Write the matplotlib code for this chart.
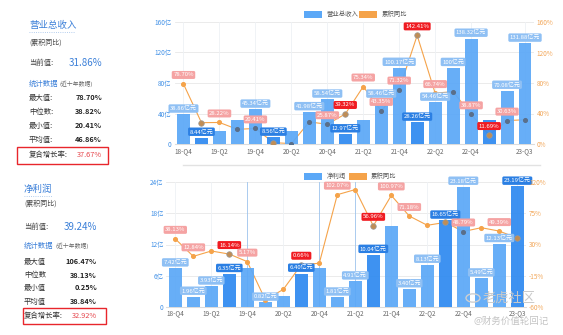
import matplotlib
matplotlib.use("Agg")
import matplotlib.pyplot as plt
from matplotlib.patches import Rectangle, Circle
from matplotlib.lines import Line2D

plt.rcParams['font.family'] = ['Noto Sans CJK SC', 'DejaVu Sans']
plt.rcParams['axes.unicode_minus'] = False

W, H = 563, 335

quarters = ['18-Q4', '19-Q1', '19-Q2', '19-Q3', '19-Q4', '20-Q1', '20-Q2', '20-Q3',
            '20-Q4', '21-Q1', '21-Q2', '21-Q3', '21-Q4', '22-Q1', '22-Q2', '22-Q3',
            '22-Q4', '23-Q1', '23-Q2', '23-Q3']
tick_idx = [0, 2, 4, 6, 8, 10, 12, 14, 16, 19]

# 营业总收入 (亿元) and 累积同比 (%)
revenue = [38.86, 8.44, 17.5, 31.5, 45.34, 8.56, 17.5, 41.98, 58.54, 12.97,
           32.0, 58.46, 100.17, 28.26, 54.46, 100.0, 138.32, 31.5, 70.08, 131.88]
revenue_lbl = [1, 1, 0, 0, 1, 1, 0, 1, 1, 1, 0, 1, 1, 1, 1, 1, 1, 0, 1, 1]
revenue_yoy = [78.70, 28.0, 28.22, 19.2, 20.41, 1.8, 0.5, 29.0, 25.87, 39.32,
               75.34, 43.35, 71.32, 142.41, 66.74, 68.6, 38.87, 11.69, 30.63, 31.86]
revenue_yoy_lbl = [1, 0, 1, 0, 1, 0, 0, 0, 1, 1, 1, 1, 1, 1, 1, 0, 1, 1, 1, 0]
revenue_hl = [1, 5, 9, 13, 17]

# 净利润 (亿元) and 累积同比 (%)
profit = [7.42, 1.96, 3.93, 6.35, 7.5, 0.82, 2.1, 6.40, 7.5, 1.81,
          4.91, 10.04, 15.6, 3.40, 8.13, 16.65, 23.18, 5.49, 12.13, 23.19]
profit_lbl = [1, 1, 1, 1, 0, 1, 0, 1, 0, 1, 1, 1, 0, 1, 1, 1, 1, 1, 1, 1]
profit_yoy = [38.13, 12.84, 20.6, 16.14, 5.17, -50.0, -35.0, 0.66, 2.9, 102.07,
              109.5, 56.96, 100.97, 71.18, 57.8, 62.0, 48.79, 54.3, 49.39, 39.24]
profit_yoy_lbl = [1, 1, 0, 1, 1, 0, 0, 1, 0, 1, 0, 1, 1, 1, 0, 0, 1, 0, 1, 0]
profit_hl = [3, 7, 11, 15, 19]

rev_ticks = [0, 40, 80, 120, 160]
rev_tick_lbl = ['0', '40亿', '80亿', '120亿', '160亿']
rev_pct_ticks = [0, 40, 80, 120, 160]
profit_ticks = [0, 6, 12, 18, 24]
profit_tick_lbl = ['0', '6亿', '12亿', '18亿', '24亿']
profit_pct_ticks = [-60, -15, 30, 75, 120]

rev_stats = [('最大值:', '78.70%'), ('中位数:', '38.82%'), ('最小值:', '20.41%'), ('平均值:', '46.86%')]
profit_stats = [('最大值', '106.47%'), ('中位数', '38.13%'), ('最小值', '0.25%'), ('平均值', '38.84%')]

BAR = "#5ba8f7"; BAR_HL = "#2f8af0"
BOX = "#8fc0f4"; BOX_HL = "#2b7fe3"
LINE = "#f5a34a"; PBOX = "#f5a3a3"; PBOX_HL = "#f01c22"
BLUE_TXT = "#3f8fe6"; ORANGE_TXT = "#f2a658"; GRID = "#e8e8e8"


def frac(x, y):
    return x / W, 1 - y / H


def panel(fig, box, vals, vals_lbl, yoy, yoy_lbl, hl, ticks, tick_lbl, pct_ticks,
          vlines_blue=()):
    l, t, r, b = box
    ax = fig.add_axes([l / W, 1 - b / H, (r - l) / W, (b - t) / H])
    ax2 = ax.twinx()
    x = list(range(len(vals)))
    ax.set_xlim(-0.5, len(vals) - 0.5)
    ax.set_ylim(ticks[0], ticks[-1])
    ax2.set_ylim(pct_ticks[0], pct_ticks[-1])
    for a in (ax, ax2):
        for s in a.spines.values():
            s.set_visible(False)
        a.tick_params(length=0, pad=2)
    ax.spines['bottom'].set_visible(True)
    ax.spines['bottom'].set_color("#dcdcdc")
    ax.set_yticks(ticks)
    ax.set_yticklabels(tick_lbl, fontsize=4.6, color=BLUE_TXT)
    ax2.set_yticks(pct_ticks)
    ax2.set_yticklabels([f"{v}%" for v in pct_ticks], fontsize=4.6, color=ORANGE_TXT)
    ax.set_xticks(tick_idx)
    ax.set_xticklabels([quarters[i] for i in tick_idx], fontsize=4.6, color="#666666")
    for v in ticks[1:]:
        ax.axhline(v, color=GRID, lw=0.6, zorder=0)
    for i in tick_idx:
        c = "#9cc3ec" if i in vlines_blue else "#eef1f5"
        ax.axvline(i, color=c, lw=0.6, zorder=0)

    # everything is drawn on the bar axes; the twin only carries the % ticks
    ax.set_zorder(1)
    ax2.set_zorder(2)
    ax2.patch.set_visible(False)
    ax.patch.set_visible(False)

    # map percent values onto the bar axis scale
    def to_left(p):
        return ticks[0] + (p - pct_ticks[0]) / (pct_ticks[-1] - pct_ticks[0]) * (ticks[-1] - ticks[0])

    ax.plot(x, [to_left(p) for p in yoy], color=LINE, lw=0.8, zorder=2)
    colors = [BAR_HL if i in hl else BAR for i in x]
    ax.bar(x, vals, width=0.72, color=colors, alpha=0.93, zorder=3)

    for i, (v, p) in enumerate(zip(vals, yoy)):
        yl = to_left(p)
        inside = yl < v
        if i in hl:
            ax.scatter(i, yl, s=16, color="#c08d55", edgecolors="#9a9a9a", linewidths=0.5, zorder=5)
        elif inside:
            ax.scatter(i, yl, s=7, color="#5a6f8a", zorder=5)
        else:
            ax.scatter(i, yl, s=7, color=LINE, zorder=5)

    for i, v in enumerate(vals):
        if vals_lbl[i]:
            fc = BOX_HL if i in hl else BOX
            ax.annotate(f"{v:.2f}亿元" if v != 100.0 else "100亿元", (i, v), xytext=(0, 4.2),
                        textcoords='offset points', ha='center', va='center', fontsize=4.3,
                        color='white', zorder=6,
                        bbox=dict(boxstyle='round,pad=0.25', fc=fc, ec='none'))
    for i, p in enumerate(yoy):
        if yoy_lbl[i]:
            fc = PBOX_HL if i in hl else PBOX
            ax.annotate(f"{p:.2f}%", (i, to_left(p)), xytext=(0, 6.5),
                        textcoords='offset points', ha='center', va='center', fontsize=4.3,
                        color='white', zorder=7,
                        bbox=dict(boxstyle='round,pad=0.25', fc=fc, ec='none'))
    return ax


def legend(fig, y, name1, x_box2, x_txt2):
    for x0, c in ((304, BAR), (x_box2, LINE)):
        fx, fy = frac(x0, y + 3.5)
        fig.patches.append(Rectangle((fx, fy), 18 / W, 7 / H, transform=fig.transFigure,
                                     fc=c, ec='none'))
    fig.text(*frac(327, y), name1, fontsize=4.6, color="#555555", va='center')
    fig.text(*frac(x_txt2, y), "累积同比", fontsize=4.6, color="#555555", va='center')


def stats_block(fig, x0, xr, ys, title, cur, stats, cagr, box):
    fig.text(*frac(x0, ys[0]), title, fontsize=6.8, color="#3a7fd8", va='center')
    fig.lines.append(Line2D([x0 / W, (x0 + 9.2 * len(title)) / W],
                            [1 - (ys[0] + 7) / H] * 2, transform=fig.transFigure,
                            color="#9bbde8", lw=0.6, ls=':'))
    fig.text(*frac(x0, ys[1]), "(累积同比)", fontsize=5, color="#444444", va='center')
    fig.text(*frac(x0, ys[2]), "当前值:", fontsize=5.3, color="#444444", va='center')
    fig.text(*frac(xr, ys[2]), cur, fontsize=7, color="#3a7fd8", va='center', ha='right')
    fig.text(*frac(x0, ys[3]), "统计数据", fontsize=5.3, color="#3a7fd8", va='center')
    fig.text(*frac(x0 + 31, ys[3]), "(近十年数据)", fontsize=4.2, color="#666666", va='center')
    for (k, v), y in zip(stats, ys[4:8]):
        fig.text(*frac(x0, y), k, fontsize=5.3, color="#333333", va='center')
        fig.text(*frac(xr, y), v, fontsize=5.3, color="#222222", va='center', ha='right',
                 fontweight='bold')
    fig.text(*frac(x0, ys[8]), "复合增长率:", fontsize=5.3, color="#333333", va='center')
    fig.text(*frac(xr, ys[8]), cagr, fontsize=5.3, color="#e6474d", va='center', ha='right')
    bl, bt, br, bb = box
    fig.patches.append(Rectangle(frac(bl, bb), (br - bl) / W, (bb - bt) / H,
                                 transform=fig.transFigure, fc='none', ec="#e8262c", lw=1.0))


fig = plt.figure(figsize=(W / 100, H / 100), dpi=100)
fig.patch.set_facecolor('white')

panel(fig, (174.5, 22, 534, 144), revenue, revenue_lbl, revenue_yoy, revenue_yoy_lbl,
      revenue_hl, rev_ticks, rev_tick_lbl, rev_pct_ticks)
panel(fig, (166.3, 182.3, 526.3, 306.7), profit, profit_lbl, profit_yoy, profit_yoy_lbl,
      profit_hl, profit_ticks, profit_tick_lbl, profit_pct_ticks, vlines_blue=(4, 8, 10))

legend(fig, 14, "营业总收入", 359, 382)
legend(fig, 176, "净利润", 349, 371)

# faint separator between the two charts
fig.lines.append(Line2D([183 / W, 540 / W], [1 - 165 / H] * 2, transform=fig.transFigure,
                        color="#e2e2e2", lw=1.0))

stats_block(fig, 29, 102, [25, 43, 63, 84, 98, 112, 126, 140, 155], "营业总收入",
            "31.86%", rev_stats, "37.67%", (17, 147, 108, 164))
stats_block(fig, 24, 97, [189, 204, 227, 246, 262, 275, 288, 302, 316], "净利润",
            "39.24%", profit_stats, "32.92%", (23, 308, 106, 324))

# watermark
fig.patches.append(Circle(frac(473, 298), 7 / W, transform=fig.transFigure, fc='none',
                          ec="#cfcfcf", lw=1.0))
fig.text(*frac(483, 298), "老虎社区", fontsize=9.5, color="#c9c9c9", va='center')
fig.text(*frac(473, 321), "@财务价值轮回记", fontsize=6.8, color="#c4c4c4", va='center')

fig.savefig("out.png", dpi=100)
